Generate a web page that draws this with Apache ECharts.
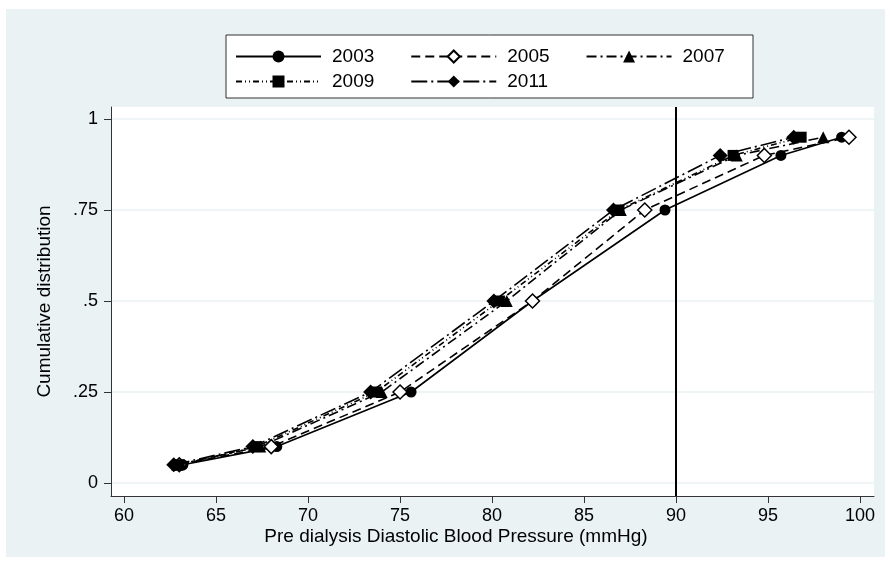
<!DOCTYPE html>
<html><head><meta charset="utf-8">
<script src="https://cdn.jsdelivr.net/npm/echarts@6/dist/echarts.min.js"></script>
<style>html,body{margin:0;padding:0;background:#fff}#c{width:890px;height:564px}</style>
</head><body><div id="c"></div>
<script>
const probs = [0.05, 0.10, 0.25, 0.50, 0.75, 0.90, 0.95];
const years = ['2003', '2005', '2007', '2009', '2011'];
const bp2003 = [63.2, 68.3, 75.6, 82.2, 89.4, 95.7, 99.0];
const bp2005 = [63.0, 68.0, 75.0, 82.2, 88.3, 94.8, 99.4];
const bp2007 = [62.9, 67.4, 74.0, 80.8, 87.0, 93.3, 98.0];
const bp2009 = [63.0, 67.2, 73.7, 80.4, 86.9, 93.1, 96.8];
const bp2011 = [62.7, 67.0, 73.4, 80.1, 86.6, 92.4, 96.4];
const xTicks = [60, 65, 70, 75, 80, 85, 90, 95, 100];
const yTicks = [0, 0.25, 0.5, 0.75, 1];
const yTickLabels = ['0', '.25', '.5', '.75', '1'];
const refLineX = 90;
const xTitle = 'Pre dialysis Diastolic Blood Pressure (mmHg)';
const yTitle = 'Cumulative distribution';

const FONT = 'Liberation Sans';
const styles = {
  '2003': {symbol: 'circle', size: 11, dash: 'solid', fill: '#000'},
  '2005': {symbol: 'diamond', size: 14, dash: [9, 5], fill: '#fff'},
  '2007': {symbol: 'triangle', size: 12, dash: [10, 4, 2, 4], fill: '#000'},
  '2009': {symbol: 'rect', size: 11, dash: [6, 3, 1, 3, 1, 3], fill: '#000'},
  '2011': {symbol: 'diamond', size: 15, dash: [16, 4, 2, 4], fill: '#000'}
};
const values = {'2003': bp2003, '2005': bp2005, '2007': bp2007, '2009': bp2009, '2011': bp2011};

const series = years.map((y, i) => {
  const s = styles[y];
  const o = {
    name: y, type: 'line',
    data: values[y].map((v, k) => [v, probs[k]]),
    symbol: s.symbol, symbolSize: s.size, showSymbol: true,
    lineStyle: {color: '#000', width: 1.6, type: s.dash},
    itemStyle: {color: s.fill, borderColor: '#000', borderWidth: s.fill === '#fff' ? 1.5 : 0},
    animation: false, z: 3
  };
  if (i === 0) {
    o.markLine = {
      silent: true, symbol: 'none', label: {show: false},
      lineStyle: {color: '#000', width: 2, type: 'solid'},
      data: [{xAxis: refLineX}], animation: false
    };
  }
  return o;
});

const chart = echarts.init(document.getElementById('c'));
const legendCommon = {
  itemWidth: 85, itemHeight: 15, itemGap: 36,
  textStyle: {fontFamily: FONT, fontSize: 19, color: '#000', padding: [0, 0, 0, 6]},
  selectedMode: false, padding: 0, z: 10
};
chart.setOption({
  backgroundColor: '#fff',
  graphic: [
    {type: 'rect', shape: {x: 6, y: 9, width: 879, height: 548}, style: {fill: '#EAF2F3'}, z: -10},
    {type: 'rect', shape: {x: 226, y: 35, width: 527, height: 63}, style: {fill: '#fff', stroke: '#333', lineWidth: 1}, z: 5},
    {type: 'text', x: 456, y: 537, style: {text: xTitle, fontFamily: FONT, fontSize: 19, fill: '#000', align: 'center', verticalAlign: 'middle'}, z: 5}
  ],
  legend: [
    Object.assign({}, legendCommon, {data: years.slice(0, 3), left: 235, top: 47}),
    Object.assign({}, legendCommon, {data: years.slice(3), left: 235, top: 72})
  ],
  grid: {left: 111, top: 107, right: 16, bottom: 68, show: true, backgroundColor: '#fff', borderWidth: 0},
  xAxis: {
    type: 'value', min: 59.29, max: 100.76,
    axisLine: {show: true, onZero: false, lineStyle: {color: '#333', width: 1}},
    axisTick: {show: true, length: 7, customValues: xTicks, lineStyle: {color: '#333'}},
    axisLabel: {customValues: xTicks, fontFamily: FONT, fontSize: 18, color: '#000', margin: 11},
    splitLine: {show: false}
  },
  yAxis: {
    type: 'value', min: -0.0357, max: 1.033,
    name: yTitle, nameLocation: 'middle', nameGap: 57,
    nameTextStyle: {fontFamily: FONT, fontSize: 19, color: '#000'},
    axisLine: {show: true, onZero: false, lineStyle: {color: '#333', width: 1}},
    axisTick: {show: true, length: 7, customValues: yTicks, lineStyle: {color: '#333'}},
    axisLabel: {customValues: yTicks, fontFamily: FONT, fontSize: 18, color: '#000', margin: 13,
      formatter: v => { const k = yTicks.findIndex(t => Math.abs(t - v) < 1e-6); return k >= 0 ? yTickLabels[k] : ''; }},
    splitLine: {show: true, lineStyle: {color: '#EAF2F3', width: 1.5}}
  },
  series: series
});
</script></body></html>
